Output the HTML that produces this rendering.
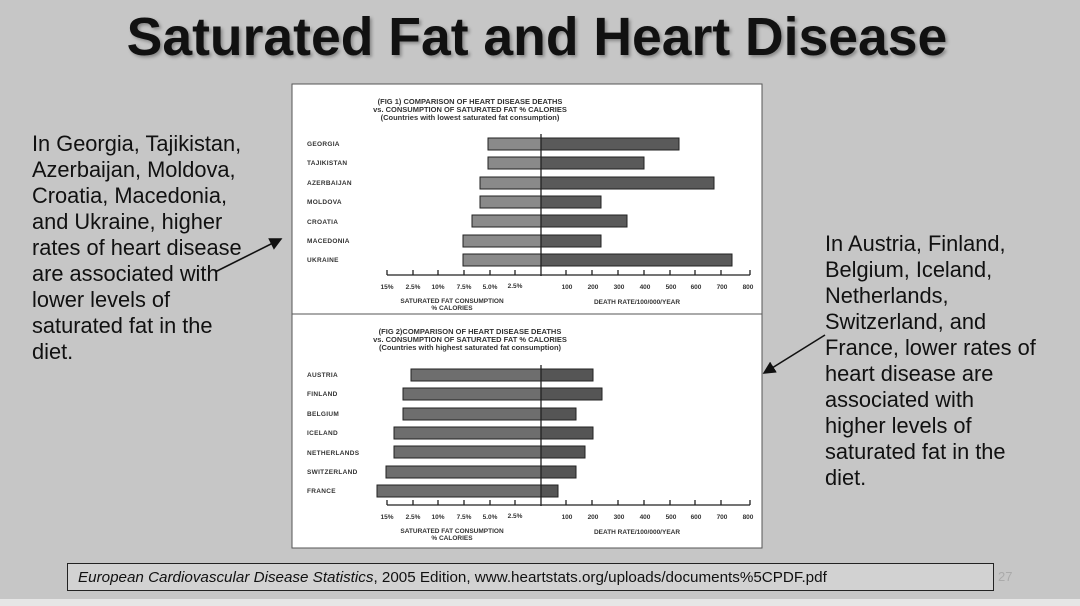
<!DOCTYPE html>
<html><head><meta charset="utf-8"><style>
body{margin:0;width:1080px;height:606px;background:#c6c6c6;overflow:hidden;position:relative;font-family:"Liberation Sans",Arial,sans-serif}
.t{position:absolute;left:0;width:1074px;top:7px;text-align:center;font-weight:bold;font-size:53.5px;color:#111;text-shadow:2px 2px 3px #888}
.txt{position:absolute;font-size:21.8px;line-height:26px;color:#111}
.foot{position:absolute;left:67px;top:563px;width:927px;height:28px;border:1.5px solid #222;background:#d2d2d2;font-size:15.2px;line-height:28px;box-sizing:border-box;padding-left:10px;color:#111}
</style></head><body>
<div class="t">Saturated Fat and Heart Disease</div>
<div class="txt" style="left:32px;top:131px">In Georgia, Tajikistan,<br>Azerbaijan, Moldova,<br>Croatia, Macedonia,<br>and Ukraine, higher<br>rates of heart disease<br>are associated with<br>lower levels of<br>saturated fat in the<br>diet.</div>
<div class="txt" style="left:825px;top:231px">In Austria, Finland,<br>Belgium, Iceland,<br>Netherlands,<br>Switzerland, and<br>France, lower rates of<br>heart disease are<br>associated with<br>higher levels of<br>saturated fat in the<br>diet.</div>
<svg style="position:absolute;left:0;top:0" width="1080" height="606">
<defs><marker id="a" markerWidth="8" markerHeight="8" refX="7" refY="4" orient="auto"><path d="M0,0L8,4L0,8z" fill="#111"/></marker></defs>
<line x1="215" y1="272" x2="281" y2="239" stroke="#111" stroke-width="1.6" marker-end="url(#a)"/>
<line x1="825" y1="335" x2="764" y2="373" stroke="#111" stroke-width="1.6" marker-end="url(#a)"/>
<rect x="292" y="84" width="470" height="464" fill="#fff" stroke="#555"/>
<line x1="292" y1="314" x2="762" y2="314" stroke="#555"/>
<g font-family="Liberation Sans" font-weight="bold" fill="#333" text-anchor="middle" font-size="7.5">
<text x="470" y="104">(FIG 1) COMPARISON OF HEART DISEASE DEATHS</text>
<text x="470" y="112">vs. CONSUMPTION OF SATURATED FAT % CALORIES</text>
<text x="470" y="120">(Countries with lowest saturated fat consumption)</text>
<text x="470" y="334">(FIG 2)COMPARISON OF HEART DISEASE DEATHS</text>
<text x="470" y="342">vs. CONSUMPTION OF SATURATED FAT % CALORIES</text>
<text x="470" y="350">(Countries with highest saturated fat consumption)</text>
</g>
<g font-family="Liberation Sans" font-weight="bold" fill="#333" font-size="6.5" letter-spacing="0.3">
<text x="307" y="146">GEORGIA</text><text x="307" y="165">TAJIKISTAN</text><text x="307" y="185">AZERBAIJAN</text><text x="307" y="204">MOLDOVA</text><text x="307" y="224">CROATIA</text><text x="307" y="243">MACEDONIA</text><text x="307" y="262">UKRAINE</text>
<text x="307" y="377">AUSTRIA</text><text x="307" y="396">FINLAND</text><text x="307" y="416">BELGIUM</text><text x="307" y="435">ICELAND</text><text x="307" y="455">NETHERLANDS</text><text x="307" y="474">SWITZERLAND</text><text x="307" y="493">FRANCE</text>
</g>
<g stroke="#222" stroke-width="1">
<rect x="488" y="138" width="53" height="12" fill="#8a8a8a"/><rect x="541" y="138" width="138" height="12" fill="#5a5a5a"/>
<rect x="488" y="157" width="53" height="12" fill="#8a8a8a"/><rect x="541" y="157" width="103" height="12" fill="#5a5a5a"/>
<rect x="480" y="177" width="61" height="12" fill="#8a8a8a"/><rect x="541" y="177" width="173" height="12" fill="#5a5a5a"/>
<rect x="480" y="196" width="61" height="12" fill="#8a8a8a"/><rect x="541" y="196" width="60" height="12" fill="#5a5a5a"/>
<rect x="472" y="215" width="69" height="12" fill="#8a8a8a"/><rect x="541" y="215" width="86" height="12" fill="#5a5a5a"/>
<rect x="463" y="235" width="78" height="12" fill="#8a8a8a"/><rect x="541" y="235" width="60" height="12" fill="#5a5a5a"/>
<rect x="463" y="254" width="78" height="12" fill="#8a8a8a"/><rect x="541" y="254" width="191" height="12" fill="#5a5a5a"/>
<rect x="411" y="369" width="130" height="12" fill="#6e6e6e"/><rect x="541" y="369" width="52" height="12" fill="#555"/>
<rect x="403" y="388" width="138" height="12" fill="#6e6e6e"/><rect x="541" y="388" width="61" height="12" fill="#555"/>
<rect x="403" y="408" width="138" height="12" fill="#6e6e6e"/><rect x="541" y="408" width="35" height="12" fill="#555"/>
<rect x="394" y="427" width="147" height="12" fill="#6e6e6e"/><rect x="541" y="427" width="52" height="12" fill="#555"/>
<rect x="394" y="446" width="147" height="12" fill="#6e6e6e"/><rect x="541" y="446" width="44" height="12" fill="#555"/>
<rect x="386" y="466" width="155" height="12" fill="#6e6e6e"/><rect x="541" y="466" width="35" height="12" fill="#555"/>
<rect x="377" y="485" width="164" height="12" fill="#6e6e6e"/><rect x="541" y="485" width="17" height="12" fill="#555"/>
</g>
<g stroke="#222" stroke-width="1.3">
<line x1="541" y1="134" x2="541" y2="276"/><line x1="387" y1="275" x2="750" y2="275"/>
<line x1="541" y1="365" x2="541" y2="506"/><line x1="387" y1="505" x2="750" y2="505"/>
<path d="M387,270v5M413,270v5M438,270v5M464,270v5M490,270v5M515,270v5M566,270v5M592,270v5M618,270v5M644,270v5M670,270v5M695,270v5M721,270v5M750,270v5"/>
<path d="M387,500v5M413,500v5M438,500v5M464,500v5M490,500v5M515,500v5M566,500v5M592,500v5M618,500v5M644,500v5M670,500v5M695,500v5M721,500v5M750,500v5"/>
</g>
<g font-family="Liberation Sans" font-weight="bold" fill="#333" font-size="6.5" text-anchor="middle">
<text x="387" y="289">15%</text><text x="413" y="289">2.5%</text><text x="438" y="289">10%</text><text x="464" y="289">7.5%</text><text x="490" y="289">5.0%</text><text x="515" y="288">2.5%</text>
<text x="567" y="289">100</text><text x="593" y="289">200</text><text x="619" y="289">300</text><text x="645" y="289">400</text><text x="671" y="289">500</text><text x="696" y="289">600</text><text x="722" y="289">700</text><text x="748" y="289">800</text>
<text x="452" y="303">SATURATED FAT CONSUMPTION</text><text x="452" y="310">% CALORIES</text><text x="637" y="304">DEATH RATE/100/000/YEAR</text>
<text x="387" y="519">15%</text><text x="413" y="519">2.5%</text><text x="438" y="519">10%</text><text x="464" y="519">7.5%</text><text x="490" y="519">5.0%</text><text x="515" y="518">2.5%</text>
<text x="567" y="519">100</text><text x="593" y="519">200</text><text x="619" y="519">300</text><text x="645" y="519">400</text><text x="671" y="519">500</text><text x="696" y="519">600</text><text x="722" y="519">700</text><text x="748" y="519">800</text>
<text x="452" y="533">SATURATED FAT CONSUMPTION</text><text x="452" y="540">% CALORIES</text><text x="637" y="534">DEATH RATE/100/000/YEAR</text>
</g>
<text x="998" y="581" font-family="Liberation Sans" font-size="13" fill="#aaa">27</text>
<rect x="0" y="599" width="1080" height="7" fill="#e6e6e6"/>
</svg>
<div class="foot"><i>European Cardiovascular Disease Statistics</i>, 2005 Edition, www.heartstats.org/uploads/documents%5CPDF.pdf</div>
</body></html>
